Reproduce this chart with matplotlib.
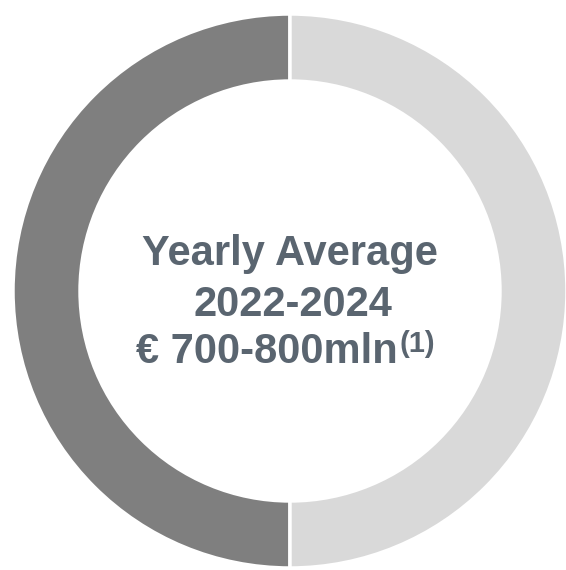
import matplotlib.pyplot as plt

# data
shares = [50, 50]
colors = ['#7f7f7f', '#d9d9d9']
title_lines = ['Yearly Average', '2022-2024']
amount_text = '€ 700-800mln'
note_mark = '(1)'

plt.rcParams['font.family'] = ['Liberation Sans', 'DejaVu Sans']

fig = plt.figure(figsize=(5.66, 5.70), dpi=100)
ax = fig.add_axes([13 / 566, 2 / 570, 554 / 566, 554 / 570])

ax.pie(shares, colors=colors, startangle=90, counterclock=True, radius=1,
       wedgeprops=dict(width=0.242, edgecolor='white', linewidth=2.5))
ax.set_xlim(-1, 1)
ax.set_ylim(-1, 1)
ax.set_aspect('equal')
ax.axis('off')

txt_color = '#5a6570'
ax.text(0.0, 0.132, title_lines[0], ha='center', va='center', fontsize=30,
        fontweight='bold', color=txt_color)
ax.text(0.01, -0.05, title_lines[1], ha='center', va='center', fontsize=30,
        fontweight='bold', color=txt_color)
ax.text(0.39, -0.222, amount_text, ha='right', va='center', fontsize=30,
        fontweight='bold', color=txt_color)
ax.text(0.396, -0.142, note_mark, ha='left', va='top', fontsize=21,
        fontweight='bold', color=txt_color)

fig.savefig('out.png', dpi=100)
